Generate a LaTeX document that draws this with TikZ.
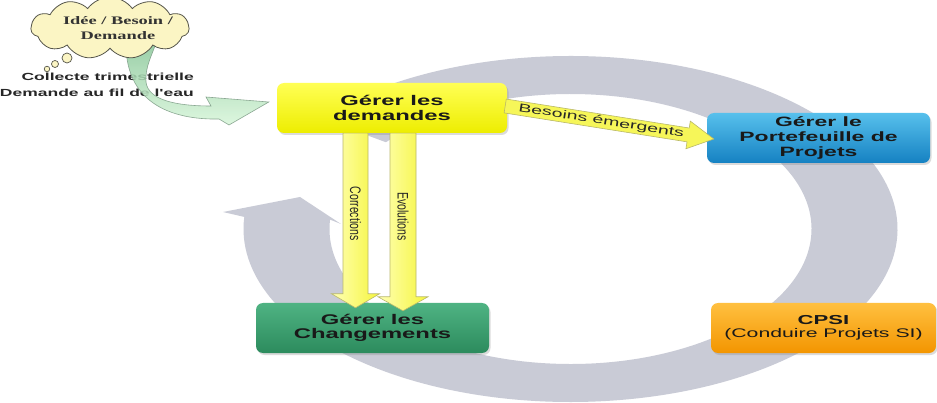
\documentclass[tikz,border=0pt]{standalone}
\usepackage{fontspec}
\setmainfont{Liberation Sans}
\newfontfamily\widesans[FakeStretch=1.7]{Liberation Sans}
\newfontfamily\wideserif[FakeStretch=1.6]{Liberation Serif}
\usetikzlibrary{calc,shapes.symbols,shadows}

\definecolor{ringgray}{HTML}{C9CBD6}
\definecolor{demtop}{HTML}{FFFF55}
\definecolor{dembot}{HTML}{EDED00}
\definecolor{pftop}{HTML}{57C0EC}
\definecolor{pfbot}{HTML}{1581C2}
\definecolor{chgtop}{HTML}{4FB383}
\definecolor{chgbot}{HTML}{2C8B5D}
\definecolor{cpsitop}{HTML}{FFC040}
\definecolor{cpsibot}{HTML}{F39500}
\definecolor{cloudfill}{HTML}{FBF5C4}
\definecolor{cloudline}{HTML}{55554A}
\definecolor{gtop}{HTML}{86C596}
\definecolor{gbot}{HTML}{D8F6DA}
\definecolor{gline}{HTML}{7B9A84}
\definecolor{ylight}{HTML}{FFFFB5}
\definecolor{ydeep}{HTML}{F5F53C}
\definecolor{yline}{HTML}{B9B86A}

% block arrow from #2 to the tip #3: shaft half width #4, head half width #5, head length #6
\newcommand\blkarrow[6][]{%
  \coordinate (ba-h) at ($(#3)!#6!(#2)$);
  \path[#1] ($(#2)!#4!90:(#3)$) -- ($(ba-h)!#4!90:(#3)$) -- ($(ba-h)!#5!90:(#3)$)
    -- (#3) -- ($(ba-h)!#5!-90:(#3)$) -- ($(ba-h)!#4!-90:(#3)$)
    -- ($(#2)!#4!-90:(#3)$) -- cycle;}

\begin{document}
\begin{tikzpicture}[x=1pt,y=-1pt,
  box/.style={rounded corners=7pt, minimum height=50pt, inner sep=2pt, align=center,
    font=\widesans\bfseries\fontsize{14pt}{14.5pt}\selectfont, text=black!90,
    drop shadow={shadow xshift=1.5pt, shadow yshift=-2pt, opacity=0.28}},
  yarrow/.style={left color=ylight, right color=ydeep, draw=yline, line width=0.6pt},
  garrow/.style={top color=gtop, bottom color=gbot, draw=gline, line width=0.6pt, opacity=0.85},
  bubble/.style={circle, draw=cloudline, fill=cloudfill, line width=0.7pt, inner sep=0pt},
  note/.style={font=\widesans\bfseries\fontsize{10.3pt}{12pt}\selectfont, text=black!85, inner sep=0pt},
  armlabel/.style={font=\fontsize{10.5pt}{11pt}\selectfont, text=black!85, inner sep=0pt}]
\useasboundingbox (0,0) rectangle (937,403);
\fill[white] (0,0) rectangle (937,403);

% grey clockwise cycle arrow
\coordinate (rc) at (570.5,229);
\fill[ringgray] ($(rc)+(-140:327 and 173)$)
  arc[start angle=-140, end angle=184, x radius=327, y radius=173]
  -- (223,212) -- (300,197) -- (341,224)
  -- ($(rc)+(184:241 and 135)$)
  arc[start angle=184, end angle=-140, x radius=241, y radius=135] -- cycle;

% intake notes
\node[note, anchor=base east] (coll1) at (194,81) {Collecte trimestrielle};
\node[note, anchor=base east] (coll2) at (194,97) {Demande au fil de l'eau};

% boxes
\node[box, top color=demtop, bottom color=dembot, minimum width=230pt] (dem) at (392,108) {Gérer les\\demandes};
\node[box, top color=pftop, bottom color=pfbot, minimum width=223pt,
  font=\widesans\bfseries\fontsize{13.5pt}{15pt}\selectfont] (pf) at (818.5,138) {Gérer le\\Portefeuille de\\Projets};
\node[box, top color=chgtop, bottom color=chgbot, minimum width=233pt] (chg) at (372.5,328) {Gérer les\\Changements};
\node[box, top color=cpsitop, bottom color=cpsibot, minimum width=225pt,
  font=\widesans\fontsize{13pt}{13.5pt}\selectfont] (cpsi) at (823.5,328)
  {\bfseries CPSI\\\fontsize{12.5pt}{13.5pt}\selectfont(Conduire Projets SI)};

% curved intake arrow, its root hidden under the cloud
\coordinate (gt) at ($(dem.west)+(-8,-6)$);
\path[garrow] (126,40) .. controls (124,102) and (170,120) .. (219,119) -- (229,125) -- (gt)
  -- (206,97) -- (211,106) .. controls (176,106) and (148,100) .. (146,82)
  .. controls (145,66) and (152,56) .. (157,40) -- cycle;

% thought cloud with its text and bubbles
\node[cloud, cloud puffs=11, cloud puff arc=110, aspect=2.6, draw=cloudline, fill=cloudfill,
  line width=0.8pt, minimum width=158pt, minimum height=62pt, inner sep=0pt] (idea) at (110,28) {};
\node[font=\wideserif\bfseries\fontsize{11.5pt}{15pt}\selectfont, text=black!80, align=center]
  (ideatext) at ($(idea.center)+(8,0)$) {Idée / Besoin /\\Demande};
\node[bubble, minimum size=5.5pt] (b1) at (47,69) {};
\node[bubble, minimum size=7pt] (b2) at (55,64) {};
\node[bubble, minimum size=10pt] (b3) at (67,58) {};

% emerging needs arrow
\coordinate (bS) at ($(dem.east)+(-2,-2)$);
\coordinate (bT) at ($(pf.west)+(7,1)$);
\blkarrow[fill=ydeep!85!white, draw=yline, line width=0.6pt]{bS}{bT}{7pt}{14pt}{26pt}
\node[rotate=-9, font=\widesans\fontsize{11.5pt}{12pt}\selectfont, text=black!85, inner sep=0pt]
  (bl) at ($(bS)!0.46!(bT)$) {Besoins émergents};

% corrections and evolutions arrows
\coordinate (cS) at ($(dem.south)+(-36.5,0)$);
\coordinate (cT) at ($(chg.north)+(-17,5)$);
\coordinate (eS) at ($(dem.south)+(11,0)$);
\coordinate (eT) at ($(chg.north)+(30.5,8)$);
\blkarrow[yarrow]{cS}{cT}{12.5pt}{24pt}{14pt}
\blkarrow[yarrow]{eS}{eT}{13pt}{25pt}{14pt}
\node[armlabel, rotate=-90] (cl) at ($(cS)!0.46!(cT)$) {\scalebox{1}[1.45]{Corrections}};
\node[armlabel, rotate=-90] (el) at ($(eS)!0.47!(eT)$) {\scalebox{1}[1.45]{Evolutions}};
\end{tikzpicture}
\end{document}
